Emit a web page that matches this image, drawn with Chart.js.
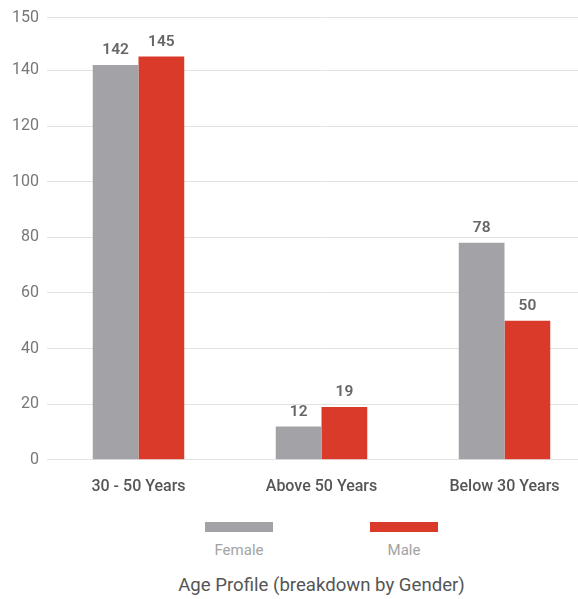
<!DOCTYPE html>
<html lang="en">
<head>
<meta charset="UTF-8">
<title>Age Profile (breakdown by Gender)</title>
<script src="https://cdn.jsdelivr.net/npm/chart.js"></script>
<style>
    html, body { margin: 0; padding: 0; background: #fff; overflow: hidden; }
    .wrap { width: 596px; position: relative; font-family: Roboto, "Noto Sans", sans-serif; }
    #legend { display: flex; justify-content: center; gap: 97px; margin-left: 47px; margin-top: 3px; }
    .item { width: 68px; display: flex; flex-direction: column; align-items: center; }
    .box { width: 68px; height: 10px; }
    .lbl { margin-top: 9px; color: #a3a3a3; font-size: 15px; white-space: nowrap; }
    #title { margin-left: 47px; text-align: center; color: #555; font-size: 18.6px; margin-top: 15px; }
</style>
</head>
<body>
<div class="wrap">
    <canvas id="ageChart" width="596" height="519"></canvas>
    <div id="legend"></div>
    <div id="title">Age Profile (breakdown by Gender)</div>
</div>

<script>
    // data
    const categories = ['30 - 50 Years', 'Above 50 Years', 'Below 30 Years'];
    const femaleValues = [142, 12, 78];
    const maleValues = [145, 19, 50];
    const seriesNames = ['Female', 'Male'];
    const yTickValues = [0, 20, 40, 60, 80, 100, 120, 140, 159];
    const yTickLabels = ['0', '20', '40', '60', '80', '100', '120', '140', '150'];

    const grey = '#a3a3a7';
    const red = '#d93a29';

    // values above bars
    const barValues = {
        id: 'barValues',
        afterDatasetsDraw(chart) {
            const c = chart.ctx;
            c.save();
            c.font = '600 15.5px Roboto, sans-serif';
            c.fillStyle = '#666';
            c.textAlign = 'center';
            c.textBaseline = 'bottom';
            chart.data.datasets.forEach((ds, i) => {
                chart.getDatasetMeta(i).data.forEach((bar, j) => {
                    c.fillText(ds.data[j], bar.x, bar.y - 7);
                });
            });
            c.restore();
        }
    };

    const chart = new Chart(document.getElementById('ageChart'), {
        type: 'bar',
        data: {
            labels: categories,
            datasets: [
                { label: seriesNames[0], data: femaleValues, backgroundColor: grey },
                { label: seriesNames[1], data: maleValues, backgroundColor: red }
            ]
        },
        options: {
            responsive: false,
            animation: false,
            layout: { padding: { top: 8, bottom: 12, right: 0, left: 0 } },
            datasets: { bar: { categoryPercentage: 0.5, barPercentage: 1.0 } },
            plugins: { legend: { display: false }, tooltip: { enabled: false } },
            scales: {
                x: {
                    grid: { display: false },
                    border: { display: false },
                    ticks: { color: '#555', padding: 10, font: { family: 'Roboto', size: 16, weight: '500' } }
                },
                y: {
                    min: 0,
                    max: 159,
                    afterFit(scale) { scale.width = 47; },
                    afterBuildTicks(scale) { scale.ticks = yTickValues.map(v => ({ value: v })); },
                    grid: { color: '#e2e2e2', drawTicks: false },
                    border: { display: false },
                    ticks: {
                        color: '#777',
                        padding: 8,
                        font: { family: 'Roboto', size: 16 },
                        callback: (v) => yTickLabels[yTickValues.indexOf(v)]
                    }
                }
            }
        },
        plugins: [barValues]
    });

    // legend: box on top, name below
    const legend = document.getElementById('legend');
    chart.data.datasets.forEach(ds => {
        const item = document.createElement('div');
        item.className = 'item';
        item.innerHTML = '<div class="box" style="background:' + ds.backgroundColor + '"></div><div class="lbl">' + ds.label + '</div>';
        legend.appendChild(item);
    });
</script>
</body>
</html>
